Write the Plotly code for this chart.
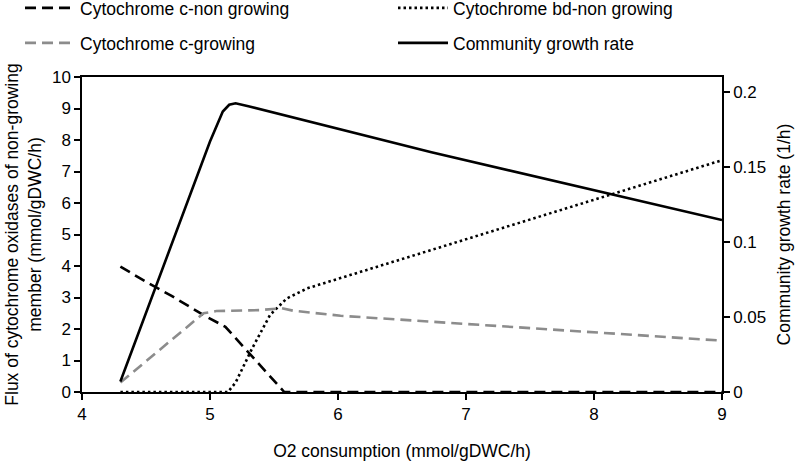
import plotly.graph_objects as go

# O2 consumption (x) values and series
x_c_non = [4.3, 4.5, 4.7, 4.95, 5.12, 5.3, 5.45, 5.58, 6, 7, 8, 9]
y_c_non = [3.98, 3.5, 3.05, 2.44, 2.07, 1.25, 0.6, 0.0, 0.0, 0.0, 0.0, 0.0]

x_bd_non = [4.3, 5.0, 5.14, 5.2, 5.33, 5.47, 5.6, 5.76, 5.99, 6.73, 8.0, 9]
y_bd_non = [0.0, 0.0, 0.0, 0.3, 1.39, 2.45, 2.97, 3.29, 3.58, 4.5, 6.1, 7.36]

x_c_grow = [4.3, 4.95, 5.05, 5.39, 5.56, 5.65, 6.02, 9]
y_c_grow = [0.3, 2.5, 2.57, 2.6, 2.66, 2.58, 2.42, 1.63]

x_growth = [4.3, 5.0, 5.1, 5.15, 5.2, 5.3, 6.73, 9]
y_growth = [0.007, 0.167, 0.187, 0.1915, 0.1925, 0.1905, 0.1598, 0.1146]

names = ["Cytochrome c-non growing", "Cytochrome bd-non growing",
         "Cytochrome c-growing", "Community growth rate"]

FONT = "Liberation Sans, Arial, sans-serif"
GRAY = "#8c8c8c"

fig = go.Figure()
fig.add_trace(go.Scatter(x=x_c_non, y=y_c_non, mode="lines", name=names[0],
                         line=dict(color="black", width=2.6, dash="11px,6px"),
                         legend="legend"))
fig.add_trace(go.Scatter(x=x_bd_non, y=y_bd_non, mode="lines", name=names[1],
                         line=dict(color="black", width=2.6, dash="2.5px,3px"),
                         legend="legend2"))
fig.add_trace(go.Scatter(x=x_c_grow, y=y_c_grow, mode="lines", name=names[2],
                         line=dict(color=GRAY, width=2.6, dash="11px,6px"),
                         legend="legend3"))
fig.add_trace(go.Scatter(x=x_growth, y=y_growth, mode="lines", name=names[3],
                         line=dict(color="black", width=2.6),
                         yaxis="y2", legend="legend4"))

W, H = 800, 465

def leg(px, py):
    return dict(xref="container", yref="container", x=px / W, y=1 - py / H,
                xanchor="left", yanchor="middle", orientation="h",
                bgcolor="rgba(0,0,0,0)", itemwidth=50,
                font=dict(family=FONT, size=17.5, color="black"),
                itemclick=False)

axis_common = dict(showline=True, linecolor="black", linewidth=1.5,
                   ticks="outside", ticklen=6, tickwidth=1.5, tickcolor="black",
                   showgrid=False, zeroline=False, automargin=False,
                   tickfont=dict(family=FONT, size=17, color="black"))

fig.update_layout(
    template="none",
    width=W, height=H,
    margin=dict(l=82, r=78, t=77, b=73, autoexpand=False),
    paper_bgcolor="white", plot_bgcolor="white",
    font=dict(family=FONT, color="black"),
    showlegend=True,
    legend=leg(20, 8),
    legend2=leg(393, 8),
    legend3=leg(20, 43),
    legend4=leg(393, 43),
    xaxis=dict(range=[4, 9], dtick=1, mirror=True,
               title=dict(text="O2 consumption (mmol/gDWC/h)",
                          font=dict(family=FONT, size=17.5, color="black"),
                          standoff=22),
               **axis_common),
    yaxis=dict(range=[0, 10], dtick=1,
               title=dict(text="Flux of cytochrome oxidases of non-growing<br>member (mmol/gDWC/h)",
                          font=dict(family=FONT, size=17.5, color="black"),
                          standoff=6),
               **axis_common),
    yaxis2=dict(range=[0, 0.21], tickvals=[0, 0.05, 0.1, 0.15, 0.2],
                ticktext=["0", "0.05", "0.1", "0.15", "0.2"],
                overlaying="y", side="right",
                title=dict(text="Community growth rate (1/h)",
                           font=dict(family=FONT, size=17.5, color="black"),
                           standoff=13),
                **axis_common),
)

fig.write_html("out.html")
